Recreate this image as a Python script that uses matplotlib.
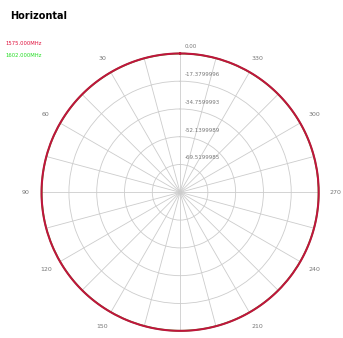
import numpy as np
import matplotlib.pyplot as plt

# pattern samples, degrees / dB
angles = [0, 15, 30, 45, 60, 75, 90, 105, 120, 135, 150, 165,
          180, 195, 210, 225, 240, 255, 270, 285, 300, 315, 330, 345]
gain_1575 = [-0.05, -0.10, -0.20, -0.25, -0.30, -0.30, -0.25, -0.20, -0.20, -0.25, -0.30, -0.30,
             -0.25, -0.20, -0.15, -0.10, -0.10, -0.15, -0.20, -0.20, -0.15, -0.10, -0.05, -0.05]
gain_1602 = [-0.10, -0.15, -0.25, -0.30, -0.35, -0.35, -0.30, -0.25, -0.25, -0.30, -0.35, -0.35,
             -0.30, -0.25, -0.20, -0.15, -0.15, -0.20, -0.25, -0.25, -0.20, -0.15, -0.10, -0.10]
ring_values = [-69.52, -52.14, -34.76, -17.38, 0.0]
ring_labels = ['-69.5199985', '-52.1399989', '-34.7599993', '-17.3799996', '0.00']
r_min = -86.9
angle_ticks = [30, 60, 90, 120, 150, 210, 240, 270, 300, 330]
angle_labels = ['30', '60', '90', '120', '150', '210', '240', '270', '300', '330']

fig = plt.figure(figsize=(3.43, 3.38), dpi=100)
ax = fig.add_axes([0.117, 0.020, 0.816, 0.822], projection='polar')
ax.set_theta_zero_location('N')
ax.set_theta_direction(1)

th = np.deg2rad(angles + [360])
g2 = gain_1602 + [gain_1602[0]]
g1 = gain_1575 + [gain_1575[0]]
l2, = ax.plot(th, g2, color='#22cc22', lw=1.2, clip_on=False, label='1602.000MHz')
l1, = ax.plot(th, g1, color='#c0143c', lw=1.5, clip_on=False, label='1575.000MHz')
# draw segments as arcs instead of chords
for ln in (l1, l2):
    ln.get_path()._interpolation_steps = 30

ax.set_ylim(r_min, 0)
ax.set_yticks(ring_values)
ax.set_yticklabels([])
ticks = list(range(0, 360, 15))
ax.set_xticks(np.deg2rad(ticks))
ax.set_xticklabels([angle_labels[angle_ticks.index(a)] if a in angle_ticks else ''
                    for a in ticks], fontsize=4.5, color='#777777')
ax.tick_params(axis='x', pad=1)
ax.grid(True, color='#cccccc', lw=0.6)
ax.spines['polar'].set_visible(False)

for r, lab in zip(ring_values, ring_labels):
    ax.annotate(lab, xy=(0, r), xytext=(3, 3), textcoords='offset points',
                fontsize=4, color='#777777', ha='left', va='bottom')

fig.text(0.03, 0.945, 'Horizontal', fontsize=7, fontweight='bold', color='black')
fig.text(0.015, 0.868, '1575.000MHz', fontsize=3.8, color='#e0103c')
fig.text(0.015, 0.832, '1602.000MHz', fontsize=3.8, color='#22dd22')

fig.savefig('out.png', dpi=100)
